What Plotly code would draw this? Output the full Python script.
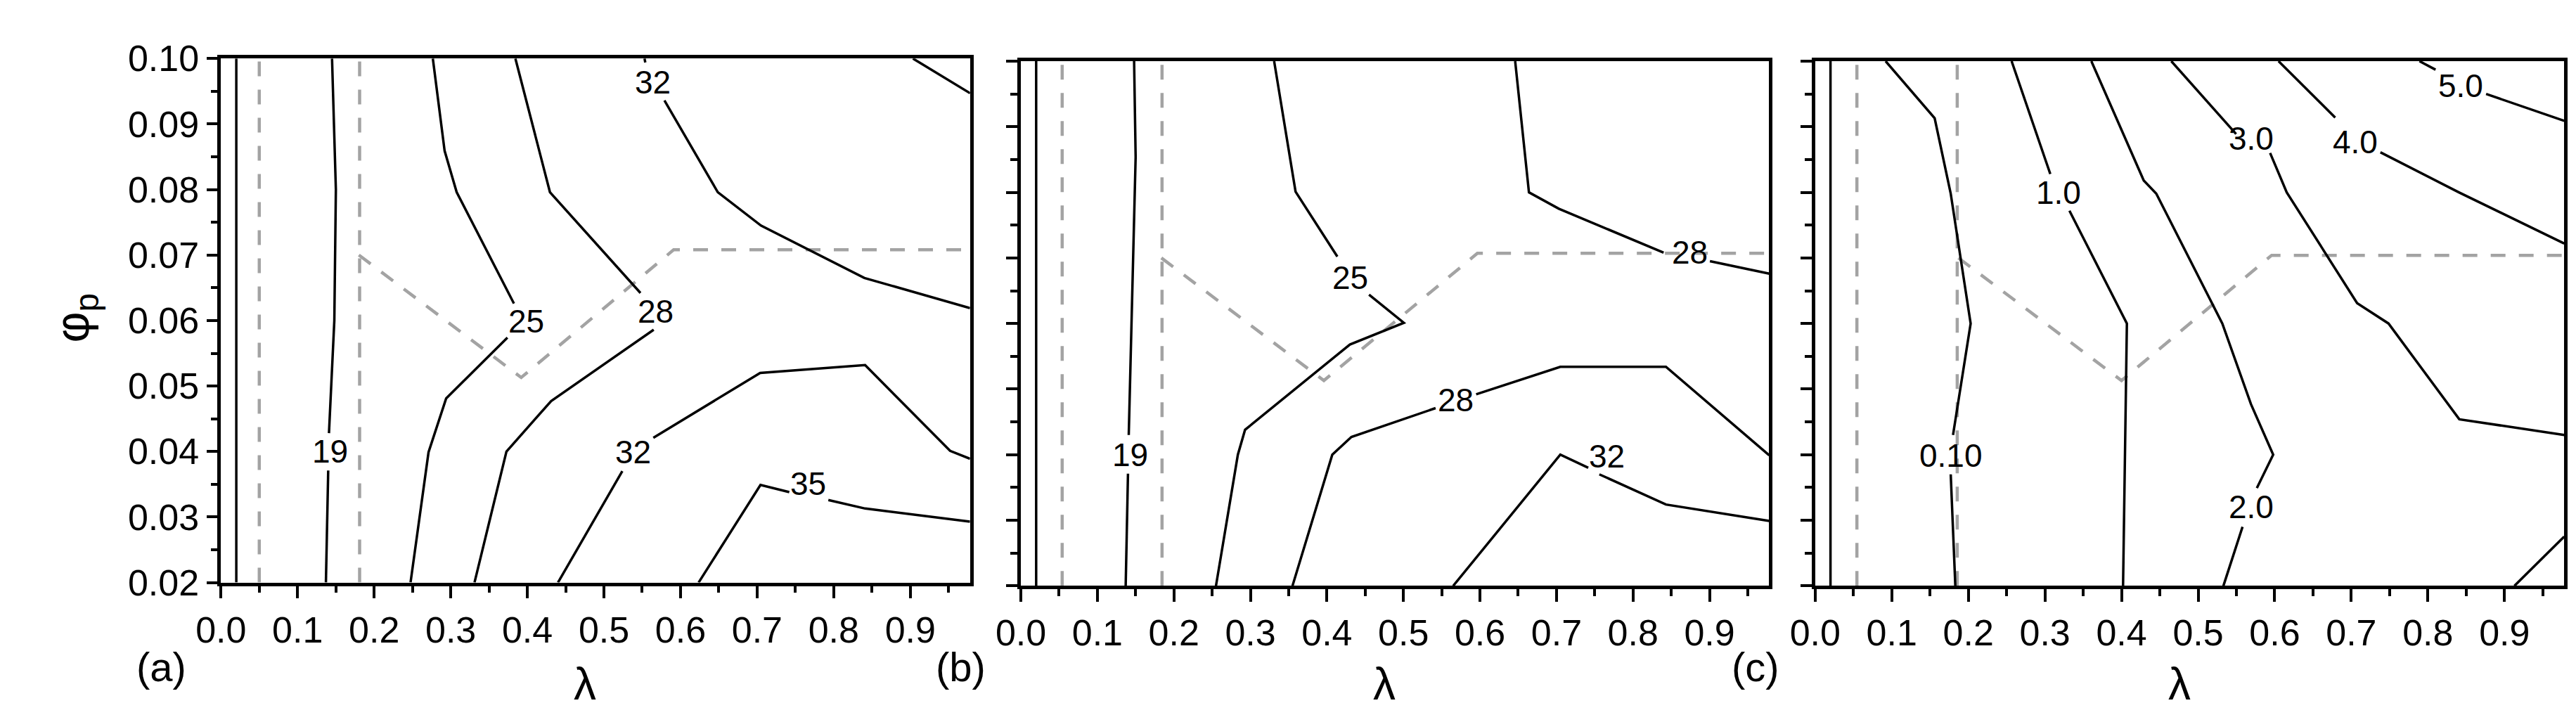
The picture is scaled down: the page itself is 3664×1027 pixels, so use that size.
"""
Contour maps of three quantities over (lambda, phi_p), panels (a)-(c).
Contour lines are redrawn as polylines read off the original figure.
"""

import plotly.graph_objects as go

FONT = "Liberation Sans, Arial, sans-serif"
W, H = 3664, 1027

# ---- shared reference line (solid, lambda = 0.02) -------------------------
ref_lam = [0.02, 0.02]
ref_phi = [0.02, 0.10]

# ---- panel (a) ------------------------------------------------------------
a_dash_lams = [0.05, 0.181]
a_bound_lam = [0.180, 0.392, 0.591, 0.978]
a_bound_phi = [0.0700, 0.0513, 0.0708, 0.0708]

a_c19_lam = [0.145, 0.150, 0.148, 0.141, None, 0.140, 0.137]
a_c19_phi = [0.100, 0.080, 0.060, 0.0428, None, 0.0371, 0.020]
a_c25_lam = [0.2766, 0.292, 0.3077, 0.3825, None, 0.374, 0.294, 0.271, 0.2475]
a_c25_phi = [0.100, 0.0859, 0.0796, 0.0626, None, 0.0574, 0.0481, 0.0399, 0.020]
a_c28_lam = [0.3844, 0.4295, 0.5477, None, 0.565, 0.431, 0.3727, 0.331]
a_c28_phi = [0.100, 0.0796, 0.0642, None, 0.0586, 0.0477, 0.040, 0.020]
a_c32u_lam = [0.553, 0.554, None, 0.579, 0.6486, 0.705, 0.840, 0.978]
a_c32u_phi = [0.100, 0.0994, None, 0.0936, 0.0796, 0.0745, 0.0665, 0.0619]
a_c35u_lam = [0.9034, 0.978]
a_c35u_phi = [0.100, 0.0947]
a_c32l_lam = [0.440, 0.524, None, 0.5645, 0.704, 0.841, 0.952, 0.978]
a_c32l_phi = [0.020, 0.037, None, 0.0421, 0.052, 0.0532, 0.0401, 0.0389]
a_c35l_lam = [0.6236, 0.7044, 0.742, None, 0.793, 0.841, 0.978]
a_c35l_phi = [0.020, 0.0349, 0.0338, None, 0.0326, 0.0313, 0.0293]

a_lbl_text = ["19", "25", "28", "32", "32", "35"]
a_lbl_lam = [0.142, 0.399, 0.567, 0.564, 0.538, 0.767]
a_lbl_phi = [0.0400, 0.0599, 0.0614, 0.0964, 0.0399, 0.0351]

# ---- panel (b) ------------------------------------------------------------
b_dash_lams = [0.054, 0.1845]
b_bound_lam = [0.1836, 0.396, 0.5966, 0.978]
b_bound_phi = [0.0700, 0.0513, 0.0707, 0.0707]

b_c19_lam = [0.148, 0.150, 0.141, None, 0.140, 0.137]
b_c19_phi = [0.100, 0.0854, 0.043, None, 0.0371, 0.020]
b_c25_lam = [0.331, 0.359, 0.4136, None, 0.455, 0.5005, 0.430, 0.293, 0.2836, 0.255]
b_c25_phi = [0.100, 0.0801, 0.0702, None, 0.0644, 0.0601, 0.0568, 0.0438, 0.040, 0.020]
b_c28u_lam = [0.646, 0.664, 0.703, 0.840, None, 0.9005, 0.978]
b_c28u_phi = [0.100, 0.080, 0.0775, 0.0708, None, 0.0695, 0.0676]
b_c28l_lam = [0.355, 0.407, 0.432, 0.542, None, 0.595, 0.705, 0.843, 0.978]
b_c28l_phi = [0.020, 0.040, 0.0427, 0.0471, None, 0.0492, 0.0534, 0.0534, 0.0399]
b_c32_lam = [0.565, 0.705, 0.7415, None, 0.756, 0.843, 0.978]
b_c32_phi = [0.020, 0.040, 0.038, None, 0.037, 0.0324, 0.0299]

b_lbl_text = ["19", "25", "28", "28", "32"]
b_lbl_lam = [0.143, 0.430, 0.874, 0.5685, 0.766]
b_lbl_phi = [0.0400, 0.0670, 0.0708, 0.0483, 0.0398]

# ---- panel (c) ------------------------------------------------------------
c_dash_lams = [0.0545, 0.1855]
c_bound_lam = [0.187, 0.400, 0.596, 0.978]
c_bound_phi = [0.0700, 0.0513, 0.0704, 0.0704]

c_c010_lam = [0.092, 0.156, 0.177, 0.203, 0.180, None, 0.177, 0.183]
c_c010_phi = [0.100, 0.0913, 0.0798, 0.060, 0.043, None, 0.037, 0.020]
c_c1_lam = [0.2565, 0.307, None, 0.332, 0.407, 0.402]
c_c1_phi = [0.100, 0.0828, None, 0.0772, 0.060, 0.020]
c_c2_lam = [0.3606, 0.429, 0.4454, 0.5316, 0.569, 0.598, 0.5767, None, 0.558, 0.533]
c_c2_phi = [0.100, 0.0818, 0.0798, 0.060, 0.0477, 0.040, 0.0349, None, 0.029, 0.020]
c_c3_lam = [0.465, 0.5496, None, 0.594, 0.6157, 0.7076, 0.7486, 0.841, 0.978]
c_c3_phi = [0.100, 0.0889, None, 0.086, 0.080, 0.0631, 0.060, 0.0454, 0.043]
c_c4_lam = [0.605, 0.679, None, 0.738, 0.8405, 0.978]
c_c4_phi = [0.100, 0.0914, None, 0.0861, 0.080, 0.0722]
c_c5_lam = [0.789, 0.810, None, 0.876, 0.978]
c_c5_phi = [0.100, 0.0987, None, 0.095, 0.0909]
c_corner_lam = [0.913, 0.978]
c_corner_phi = [0.020, 0.0275]

c_lbl_text = ["0.10", "1.0", "2.0", "3.0", "4.0", "5.0"]
c_lbl_lam = [0.177, 0.3175, 0.569, 0.569, 0.7055, 0.843]
c_lbl_phi = [0.0399, 0.0800, 0.0320, 0.0882, 0.0877, 0.0962]

PANEL_TAGS = ["(a)", "(b)", "(c)"]

# pixel boxes of the three frames (left, right, top, bottom)
BOXES = [(273, 1349, 49, 839), (1422, 2497, 53, 844), (2563, 3639, 53, 844)]


def px_domain(box):
    l, r, t, b = box
    return [l / W, r / W], [1 - b / H, 1 - t / H]


panels = [
    dict(dash=a_dash_lams, bound=(a_bound_lam, a_bound_phi),
         lines=[(a_c19_lam, a_c19_phi), (a_c25_lam, a_c25_phi), (a_c28_lam, a_c28_phi),
                (a_c32u_lam, a_c32u_phi), (a_c35u_lam, a_c35u_phi),
                (a_c32l_lam, a_c32l_phi), (a_c35l_lam, a_c35l_phi)],
         labels=(a_lbl_text, a_lbl_lam, a_lbl_phi)),
    dict(dash=b_dash_lams, bound=(b_bound_lam, b_bound_phi),
         lines=[(b_c19_lam, b_c19_phi), (b_c25_lam, b_c25_phi), (b_c28u_lam, b_c28u_phi),
                (b_c28l_lam, b_c28l_phi), (b_c32_lam, b_c32_phi)],
         labels=(b_lbl_text, b_lbl_lam, b_lbl_phi)),
    dict(dash=c_dash_lams, bound=(c_bound_lam, c_bound_phi),
         lines=[(c_c010_lam, c_c010_phi), (c_c1_lam, c_c1_phi), (c_c2_lam, c_c2_phi),
                (c_c3_lam, c_c3_phi), (c_c4_lam, c_c4_phi), (c_c5_lam, c_c5_phi),
                (c_corner_lam, c_corner_phi)],
         labels=(c_lbl_text, c_lbl_lam, c_lbl_phi)),
]

GRAY = "#a3a3a3"
DASH = "21px,19px"

fig = go.Figure()
annotations = []

for i, p in enumerate(panels):
    n = "" if i == 0 else str(i + 1)
    xa, ya = "x" + n, "y" + n

    # gray dashed boundaries
    for lam in p["dash"]:
        fig.add_trace(go.Scatter(x=[lam, lam], y=[0.02, 0.10], mode="lines",
                                 line=dict(color=GRAY, width=4.5, dash=DASH),
                                 xaxis=xa, yaxis=ya, hoverinfo="skip"))
    fig.add_trace(go.Scatter(x=p["bound"][0], y=p["bound"][1], mode="lines",
                             line=dict(color=GRAY, width=4.5, dash=DASH),
                             xaxis=xa, yaxis=ya, hoverinfo="skip"))

    # solid reference line and contour lines
    fig.add_trace(go.Scatter(x=ref_lam, y=ref_phi, mode="lines",
                             line=dict(color="black", width=3.5),
                             xaxis=xa, yaxis=ya, hoverinfo="skip"))
    for lam, phi in p["lines"]:
        fig.add_trace(go.Scatter(x=lam, y=phi, mode="lines",
                                 line=dict(color="black", width=3.5),
                                 xaxis=xa, yaxis=ya, hoverinfo="skip"))

    # contour labels
    for txt, lam, phi in zip(*p["labels"]):
        annotations.append(dict(x=lam, y=phi, xref=xa, yref=ya, text=txt,
                                showarrow=False, xanchor="center", yanchor="middle",
                                font=dict(family=FONT, size=46, color="black")))

    xdom, ydom = px_domain(BOXES[i])
    tickfont = dict(family=FONT, size=52, color="black")
    fig.layout["xaxis" + n] = dict(
        domain=xdom, anchor=ya, range=[0, 0.978], tick0=0, dtick=0.1,
        tickformat=".1f", ticks="outside", ticklen=18, tickwidth=4, tickcolor="black",
        showline=True, linewidth=4.5, linecolor="black", mirror=True,
        showgrid=False, zeroline=False, tickfont=tickfont,
        minor=dict(dtick=0.05, tick0=0, ticks="outside", ticklen=10, tickwidth=4,
                   tickcolor="black", showgrid=False),
    )
    fig.layout["yaxis" + n] = dict(
        domain=ydom, anchor=xa, range=[0.02, 0.10], tick0=0.02, dtick=0.01,
        tickformat=".2f", ticks="outside", ticklen=16, tickwidth=4, tickcolor="black",
        showline=True, linewidth=4.5, linecolor="black", mirror=True,
        showgrid=False, zeroline=False, tickfont=tickfont,
        showticklabels=(i == 0),
        minor=dict(dtick=0.005, tick0=0.02, ticks="outside", ticklen=10, tickwidth=4,
                   tickcolor="black", showgrid=False),
    )

    # axis title and panel tag
    l, r, t, b = BOXES[i]
    annotations.append(dict(x=((l + r) / 2 - 15) / W, y=1 - 992 / H, xref="paper", yref="paper",
                            text="λ", showarrow=False, xanchor="center", yanchor="middle",
                            font=dict(family=FONT, size=64, color="black")))
    annotations.append(dict(x=(l - 86) / W, y=1 - 966 / H, xref="paper", yref="paper",
                            text=PANEL_TAGS[i], showarrow=False, xanchor="center",
                            yanchor="middle", font=dict(family=FONT, size=58, color="black")))

annotations.append(dict(x=64 / W, y=1 - 440 / H, xref="paper", yref="paper",
                        text="φ<sub>p</sub>", textangle=-90, showarrow=False,
                        xanchor="center", yanchor="middle",
                        font=dict(family=FONT, size=68, color="black")))

fig.update_layout(
    width=W, height=H, autosize=False,
    margin=dict(l=0, r=0, t=0, b=0),
    paper_bgcolor="white", plot_bgcolor="white",
    showlegend=False, hovermode=False,
    annotations=annotations,
)

fig.write_html("out.html")
